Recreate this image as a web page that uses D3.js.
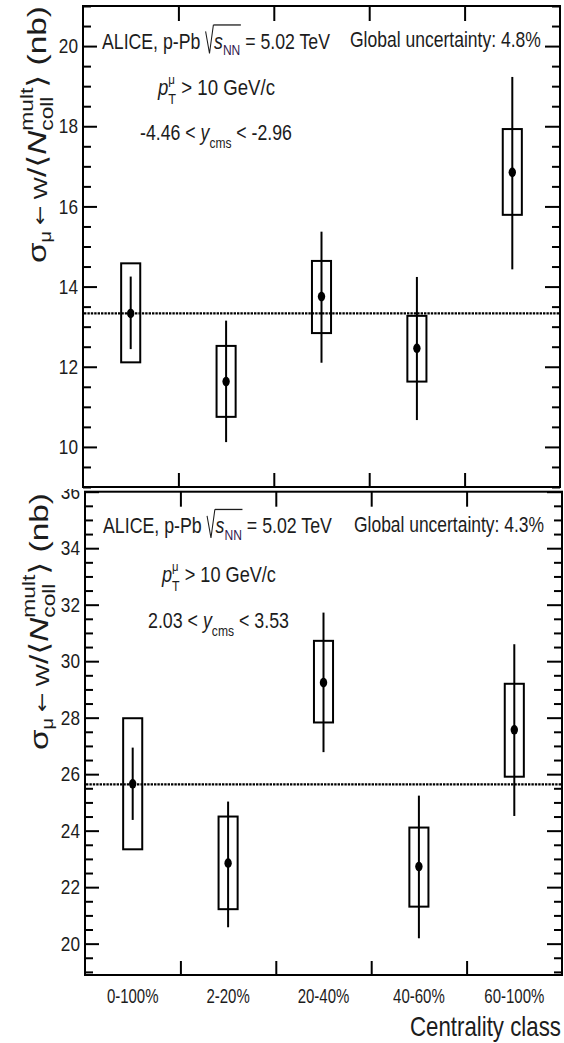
<!DOCTYPE html>
<html><head><meta charset="utf-8">
<script src="https://cdn.jsdelivr.net/npm/d3@7"></script>
<style>body{margin:0;background:#fff} svg{display:block} text{white-space:pre}</style>
</head><body>
<svg id="c" width="564" height="1043"></svg>
<script>
const categories = ["0-100%", "2-20%", "20-40%", "40-60%", "60-100%"];

// Upper panel: -4.46 < y_cms < -2.96
const topValues    = [13.33, 11.63, 13.75, 12.46, 16.85];
const topStatLow   = [12.44, 10.12, 12.10, 10.67, 14.43];
const topStatHigh  = [14.25, 13.15, 15.37, 14.24, 19.23];
const topSystLow   = [12.11, 10.75, 12.84, 11.63, 15.79];
const topSystHigh  = [14.58, 12.52, 14.64, 13.27, 17.93];
const topReference = 13.33;
const topYTicks    = [10, 12, 14, 16, 18, 20];
const topYDomain   = [9, 21];

// Lower panel: 2.03 < y_cms < 3.53
const bottomValues    = [25.66, 22.85, 29.24, 22.73, 27.57];
const bottomStatLow   = [24.38, 20.58, 26.78, 20.19, 24.52];
const bottomStatHigh  = [26.94, 25.03, 31.72, 25.24, 30.60];
const bottomSystLow   = [23.34, 21.22, 27.83, 21.31, 25.91];
const bottomSystHigh  = [27.98, 24.50, 30.72, 24.11, 29.20];
const bottomReference = 25.64;
const bottomYTicks    = [20, 22, 24, 26, 28, 30, 32, 34, 36];
const bottomYDomain   = [18.89, 36];

const topGlobal = "Global uncertainty: 4.8%";
const bottomGlobal = "Global uncertainty: 4.3%";
const xTitle = "Centrality class";

const FONT = "'Liberation Sans', Arial, Helvetica, sans-serif";
const INK = "#1c1c1c";
const svg = d3.select("#c");

svg.append("defs").append("clipPath").attr("id", "lowclip")
  .append("rect").attr("x", 0).attr("y", 489).attr("width", 564).attr("height", 560);

// ---------- rich text helper ----------
function rich(parent, runs, o) {
  const g = parent.append("g");
  const inner = g.append("g");
  let x = 0, lastStart = 0, lastEnd = 0, ovStart = null, ovEnd = null;
  const fs0 = o.size;
  runs.forEach(r => {
    if (r.sqrt) {
      const w = 0.5 * fs0;
      inner.append("path")
        .attr("d", `M${x + 0.02*fs0},${-0.78*fs0} L${x + 0.24*fs0},${0.22*fs0} L${x + 0.46*fs0},${-1.07*fs0}`)
        .attr("fill", "none").attr("stroke", INK).attr("stroke-width", 1.3);
      ovStart = x + 0.46*fs0;
      x += w; lastStart = x; lastEnd = x;
      return;
    }
    const fs = fs0 * (r.scale || 1);
    const sx = r.stack ? lastStart : x;
    const t = inner.append("text")
      .attr("x", sx).attr("y", (r.dy || 0) * fs0)
      .attr("font-size", fs).attr("font-family", r.fam || FONT)
      .attr("font-style", r.it ? "italic" : "normal")
      .attr("fill", r.color || INK)
      .text(r.t);
    const w = t.node().getComputedTextLength();
    if (r.stack) { x = Math.max(lastEnd, sx + w); lastEnd = x; }
    else { lastStart = sx; x = sx + w; lastEnd = x; }
    if (r.ov) ovEnd = x;
  });
  if (ovStart !== null && ovEnd !== null) {
    inner.append("line").attr("x1", ovStart).attr("x2", ovEnd + 0.03*fs0)
      .attr("y1", -1.07*fs0).attr("y2", -1.07*fs0)
      .attr("stroke", INK).attr("stroke-width", 1.3);
  }
  const total = x;
  const sxScale = o.width ? o.width / total : (o.sx || 1);
  let off = 0;
  if (o.anchor === "middle") off = -total / 2;
  if (o.anchor === "end") off = -total;
  inner.attr("transform", `translate(${off},0)`);
  if (o.rotate) {
    g.attr("transform", `translate(${o.x},${o.y}) rotate(-90) scale(${sxScale},${o.across || 1})`);
  } else {
    g.attr("transform", `translate(${o.x},${o.y}) scale(${sxScale},${o.sy || 1})`);
  }
  return g;
}

// ---------- panel drawing ----------
function panel(cfg) {
  const x = d3.scaleBand().domain(categories).range([cfg.left, cfg.right]).padding(0);
  const xb = d3.scaleLinear().domain([0, categories.length]).range([cfg.left, cfg.right]);
  const y = d3.scaleLinear().domain(cfg.domain).range([cfg.bottom, cfg.top]);
  const g = svg.append("g");

  const minor = d3.range(Math.ceil(cfg.domain[0] * 2) / 2, cfg.domain[1] + 1e-9, 0.5)
    .filter(v => Math.abs(v - Math.round(v / 2) * 2) > 1e-6);

  const styleAxis = sel => {
    sel.select(".domain").remove();
    sel.selectAll("line").attr("stroke", "#000").attr("stroke-width", 2);
  };
  g.append("g").attr("transform", `translate(${cfg.left},0)`)
    .call(d3.axisLeft(y).tickValues(cfg.ticks).tickSize(-14).tickFormat(""))
    .call(styleAxis);
  g.append("g").attr("transform", `translate(${cfg.left},0)`)
    .call(d3.axisLeft(y).tickValues(minor).tickSize(-8).tickFormat(""))
    .call(styleAxis);
  g.append("g").attr("transform", `translate(${cfg.right},0)`)
    .call(d3.axisRight(y).tickValues(cfg.ticks).tickSize(-15).tickFormat(""))
    .call(styleAxis);
  g.append("g").attr("transform", `translate(${cfg.right},0)`)
    .call(d3.axisRight(y).tickValues(minor).tickSize(-8).tickFormat(""))
    .call(styleAxis);
  const edges = d3.range(1, categories.length);
  g.append("g").attr("transform", `translate(0,${cfg.bottom})`)
    .call(d3.axisBottom(xb).tickValues(edges).tickSize(-14).tickFormat(""))
    .call(styleAxis);
  g.append("g").attr("transform", `translate(0,${cfg.top})`)
    .call(d3.axisTop(xb).tickValues(edges).tickSize(-15).tickFormat(""))
    .call(styleAxis);

  g.append("rect").attr("x", cfg.left).attr("y", cfg.top)
    .attr("width", cfg.right - cfg.left).attr("height", cfg.bottom - cfg.top)
    .attr("fill", "none").attr("stroke", "#000").attr("stroke-width", 2);

  const lab = g.append("g");
  if (cfg.clip) lab.attr("clip-path", `url(#${cfg.clip})`);
  lab.selectAll(".yl").data(cfg.ticks).join("text")
    .attr("transform", v => `translate(${cfg.left - 5},${y(v) + 7.2}) scale(0.86,1.04)`)
    .attr("text-anchor", "end").attr("font-size", 20).attr("font-family", FONT)
    .attr("fill", INK).text(v => v);

  g.append("line").attr("x1", cfg.left + 1).attr("x2", cfg.right - 1)
    .attr("y1", y(cfg.ref)).attr("y2", y(cfg.ref))
    .attr("stroke", "#000").attr("stroke-width", 2.2).attr("stroke-dasharray", "2.4,1");

  const data = categories.map((c, i) => ({c, v: cfg.values[i], sl: cfg.statLow[i], sh: cfg.statHigh[i], yl: cfg.systLow[i], yh: cfg.systHigh[i]}));
  const bw = x.bandwidth() * 0.2;
  const cx = d => x(d.c) + x.bandwidth() / 2;
  g.selectAll(".sys").data(data).join("rect")
    .attr("x", d => cx(d) - bw / 2).attr("width", bw)
    .attr("y", d => y(d.yh)).attr("height", d => y(d.yl) - y(d.yh))
    .attr("fill", "none").attr("stroke", "#000").attr("stroke-width", 2);
  g.selectAll(".stat").data(data).join("line")
    .attr("x1", cx).attr("x2", cx)
    .attr("y1", d => y(d.sh)).attr("y2", d => y(d.sl))
    .attr("stroke", "#000").attr("stroke-width", 2);
  g.selectAll(".pt").data(data).join("ellipse")
    .attr("cx", cx).attr("cy", d => y(d.v)).attr("rx", 3.7).attr("ry", 4.8)
    .attr("fill", "#000");
  return {x, y, g};
}

const P1 = panel({left: 83, right: 560, top: 6, bottom: 487, domain: topYDomain, ticks: topYTicks,
  values: topValues, statLow: topStatLow, statHigh: topStatHigh, systLow: topSystLow, systHigh: topSystHigh, ref: topReference});
const P2 = panel({left: 85, right: 562, top: 491.7, bottom: 975, domain: bottomYDomain, ticks: bottomYTicks, clip: "lowclip",
  values: bottomValues, statLow: bottomStatLow, statHigh: bottomStatHigh, systLow: bottomSystLow, systHigh: bottomSystHigh, ref: bottomReference});

// ---------- annotations ----------
function alice(x, y, w) {
  rich(svg, [
    {t: "ALICE, p-Pb "},
    {sqrt: true},
    {t: "s", it: true, ov: true},
    {t: "NN", scale: 0.68, dy: 0.3, ov: true, color: "#33214f"},
    {t: " = 5.02 TeV"}
  ], {x, y, size: 22, width: w});
}
function ptline(x, y, w) {
  rich(svg, [
    {t: "p", it: true},
    {t: "\u03bc", scale: 0.62, dy: -0.5},
    {t: "T", scale: 0.68, dy: 0.42, stack: true},
    {t: " > 10 GeV/c"}
  ], {x, y, size: 22, width: w});
}
function yline(x, y, w, a, b) {
  rich(svg, [
    {t: a + " < "},
    {t: "y", it: true},
    {t: "cms", scale: 0.68, dy: 0.38},
    {t: " < " + b}
  ], {x, y, size: 22, width: w});
}
alice(102, 48.5, 228);
ptline(158, 95, 117);
yline(140, 140, 152, "-4.46", "-2.96");
rich(svg, [{t: topGlobal}], {x: 350, y: 46.5, size: 22, width: 191});

alice(103, 533, 229);
ptline(162, 581.7, 114);
yline(148, 628, 141, "2.03", "3.53");
rich(svg, [{t: bottomGlobal}], {x: 354, y: 531.7, size: 22, width: 190});

// y-axis titles
function ytitle(x, y) {
  rich(svg, [
    {t: "\u03c3"},
    {t: "\u03bc ", scale: 0.6, dy: 0.2},
    {t: "\u2190", scale: 0.7, dy: 0.0, fam: "'DejaVu Sans', sans-serif"},
    {t: " W", scale: 0.7, dy: 0.05},
    {t: "/"},
    {t: "\u27e8", fam: "'DejaVu Sans', sans-serif"},
    {t: "N", it: true},
    {t: "mult", scale: 0.68, dy: -0.48},
    {t: "coll", scale: 0.68, dy: 0.28, stack: true},
    {t: "\u27e9", fam: "'DejaVu Sans', sans-serif"},
    {t: " (nb)"}
  ], {x, y, size: 28, width: 257, rotate: true, across: 0.95});
}
ytitle(46, 263);
ytitle(48, 750);

// x labels
svg.selectAll(".xl").data(categories).join("text")
  .attr("transform", c => `translate(${P2.x(c) + P2.x.bandwidth() / 2},1003) scale(0.75,1)`)
  .attr("text-anchor", "middle").attr("font-size", 20).attr("font-family", FONT)
  .attr("fill", INK).text(c => c);

rich(svg, [{t: xTitle}], {x: 561, y: 1036, size: 28, width: 151, anchor: "end"});
</script>
</body></html>
